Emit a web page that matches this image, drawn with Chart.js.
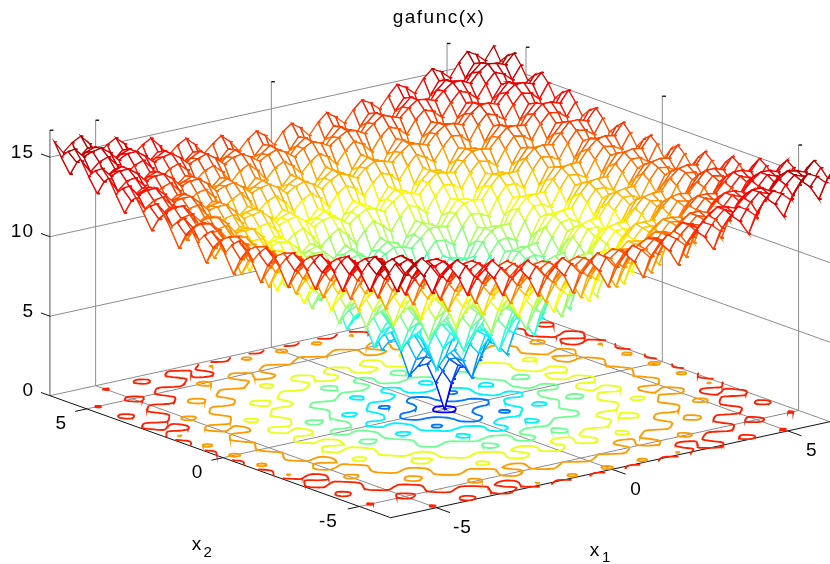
<!DOCTYPE html>
<html><head><meta charset="utf-8">
<style>html,body{margin:0;padding:0;background:#fff}canvas{display:block}</style>
<script src="https://cdn.jsdelivr.net/npm/chart.js@4/dist/chart.umd.min.js"></script>
</head><body>
<canvas id="c" width="830" height="564"></canvas>
<script>
// Surface heights read for one quadrant; the plotted surface is mirror-symmetric in x1 and x2.
const gridAbs=[0,.25,.5,.75,1,1.25,1.5,1.75,2,2.25,2.5,2.75,3,3.25,3.5,3.75,4,4.25,4.5,4.75,5,5.25,5.5,5.75,6,6.25];
const zRows=[
[0,1.8,3.1,3.1,2.6,4.3,5.6,5.5,4.9,6.5,7.7,7.5,6.9,8.4,9.5,9.3,8.6,10.1,11.1,10.9,10.1,11.6,12.5,12.2,11.4,12.8],
[1.8,2.7,3.6,3.8,3.8,5,6,6.2,6,7.2,8.1,8.2,8,9.1,9.9,10,9.7,10.8,11.5,11.5,11.2,12.2,12.9,12.9,12.5,13.5],
[3.1,3.6,4.2,4.5,4.6,5.6,6.4,6.7,6.8,7.7,8.4,8.6,8.7,9.6,10.2,10.4,10.4,11.2,11.8,11.9,11.9,12.6,13.2,13.3,13.2,13.9],
[3.1,3.8,4.5,4.5,4.3,5.5,6.3,6.5,6.3,7.4,8.3,8.4,8.2,9.2,10.1,10.1,9.8,10.9,11.6,11.6,11.3,12.3,13,12.9,12.6,13.5],
[2.6,3.8,4.6,4.3,3.6,5.1,6.2,6,5.4,7,8.1,7.9,7.2,8.7,9.8,9.5,8.8,10.3,11.3,11,10.3,11.7,12.7,12.3,11.5,12.9],
[4.3,5,5.6,5.5,5.1,6.2,6.9,7,6.7,7.8,8.6,8.7,8.4,9.5,10.3,10.3,10,11,11.8,11.7,11.4,12.4,13.1,13,12.7,13.6],
[5.6,6,6.4,6.3,6.2,6.9,7.6,7.7,7.7,8.5,9.1,9.3,9.3,10.1,10.7,10.8,10.8,11.5,12.1,12.2,12.2,12.9,13.4,13.5,13.4,14.1],
[5.5,6.2,6.7,6.5,6,7,7.7,7.6,7.3,8.4,9.1,9.1,8.8,9.9,10.6,10.6,10.3,11.3,12,11.9,11.6,12.6,13.3,13.2,12.8,13.7],
[4.9,6,6.8,6.3,5.4,6.7,7.7,7.3,6.6,8,9,8.7,8,9.4,10.4,10.1,9.4,10.8,11.8,11.4,10.7,12,13,12.6,11.8,13.2],
[6.5,7.2,7.7,7.4,7,7.8,8.5,8.4,8,9,9.7,9.6,9.3,10.3,11,11,10.6,11.6,12.3,12.2,11.9,12.8,13.5,13.4,13,13.9],
[7.7,8.1,8.4,8.3,8.1,8.6,9.1,9.1,9,9.7,10.2,10.3,10.2,10.9,11.5,11.5,11.5,12.2,12.7,12.8,12.7,13.3,13.9,13.9,13.7,14.4],
[7.5,8.2,8.6,8.4,7.9,8.7,9.3,9.1,8.7,9.6,10.3,10.2,9.8,10.8,11.4,11.4,11,11.9,12.6,12.5,12.2,13.1,13.7,13.6,13.2,14.1],
[6.9,8,8.7,8.2,7.2,8.4,9.3,8.8,8,9.3,10.2,9.8,9,10.4,11.3,10.9,10.1,11.5,12.4,12,11.2,12.6,13.5,13.1,12.3,13.6],
[8.4,9.1,9.6,9.2,8.7,9.5,10.1,9.9,9.4,10.3,10.9,10.8,10.4,11.3,11.9,11.8,11.4,12.3,13,12.9,12.5,13.4,14,13.9,13.5,14.3],
[9.5,9.9,10.2,10.1,9.8,10.3,10.7,10.6,10.4,11,11.5,11.4,11.3,11.9,12.4,12.4,12.3,12.9,13.4,13.4,13.3,13.9,14.4,14.4,14.2,14.9],
[9.3,10,10.4,10.1,9.5,10.3,10.8,10.6,10.1,11,11.5,11.4,10.9,11.8,12.4,12.3,11.9,12.8,13.4,13.2,12.8,13.7,14.3,14.1,13.7,14.6],
[8.6,9.7,10.4,9.8,8.8,10,10.8,10.3,9.4,10.6,11.5,11,10.1,11.4,12.3,11.9,11,12.3,13.2,12.8,11.9,13.2,14.1,13.7,12.8,14.1],
[10.1,10.8,11.2,10.9,10.3,11,11.5,11.3,10.8,11.6,12.2,11.9,11.5,12.3,12.9,12.8,12.3,13.2,13.8,13.6,13.2,14,14.6,14.5,14,14.9],
[11.1,11.5,11.8,11.6,11.3,11.8,12.1,12,11.8,12.3,12.7,12.6,12.4,13,13.4,13.4,13.2,13.8,14.2,14.2,14,14.6,15,15,14.8,15.4],
[10.9,11.5,11.9,11.6,11,11.7,12.2,11.9,11.4,12.2,12.8,12.5,12,12.9,13.4,13.2,12.8,13.6,14.2,14,13.5,14.4,15,14.8,14.3,15.1],
[10.1,11.2,11.9,11.3,10.3,11.4,12.2,11.6,10.7,11.9,12.7,12.2,11.2,12.5,13.3,12.8,11.9,13.2,14,13.5,12.7,13.9,14.7,14.3,13.4,14.6],
[11.6,12.2,12.6,12.3,11.7,12.4,12.9,12.6,12,12.8,13.3,13.1,12.6,13.4,13.9,13.7,13.2,14,14.6,14.4,13.9,14.7,15.3,15.1,14.6,15.4],
[12.5,12.9,13.2,13,12.7,13.1,13.4,13.3,13,13.5,13.9,13.7,13.5,14,14.4,14.3,14.1,14.6,15,15,14.7,15.3,15.7,15.6,15.4,16],
[12.2,12.9,13.3,12.9,12.3,13,13.5,13.2,12.6,13.4,13.9,13.6,13.1,13.9,14.4,14.1,13.7,14.5,15,14.8,14.3,15.1,15.6,15.4,14.9,15.7],
[11.4,12.5,13.2,12.6,11.5,12.7,13.4,12.8,11.8,13,13.7,13.2,12.3,13.5,14.2,13.7,12.8,14,14.8,14.3,13.4,14.6,15.4,14.9,14,15.2],
[12.8,13.5,13.9,13.5,12.9,13.6,14.1,13.7,13.2,13.9,14.4,14.1,13.6,14.3,14.9,14.6,14.1,14.9,15.4,15.1,14.6,15.4,16,15.7,15.2,16]
];
const x1Ticks=[-5,0,5];
const x2Ticks=[-5,0,5];
const zTicks=[0,5,10,15];
const contourLevels=[2,4,6,8,10,11.9,13.6];
const contourColours=[2,4,6,8,10,12,14];
const x1Lim=[-6.3,6.2], x2Lim=[-6.15,6.35], zLim=[0,16.7];
const colorMax=16.6;

// view of the 3-D box onto the chart's x/y scales
const view={ox:390.7,oy:517.7,x1u:35.14,x1v:-7.68,x2u:-27.26,x2v:-9.76,zv:-15.9};
function P(a,b,c){
  const da=a-x1Lim[0],db=b-x2Lim[0];
  return {x:view.ox+view.x1u*da+view.x2u*db,y:view.oy+view.x1v*da+view.x2v*db+view.zv*c};
}
function clamp(v){return Math.max(0,Math.min(1,v));}
function jet(v){
  const t=clamp(v/colorMax)*4;
  const f=k=>Math.round(255*clamp(1.5-Math.abs(t-k)));
  return `rgb(${f(3)},${f(2)},${f(1)})`;
}
const N=2*gridAbs.length-1, mid=gridAbs.length-1;
const gv=i=>(i<mid?-gridAbs[mid-i]:gridAbs[i-mid]);
const Z=(i,j)=>zRows[Math.abs(i-mid)][Math.abs(j-mid)];

const datasets=[];
// mesh: nearest cell first, Chart.js paints earlier datasets on top
const cells=[];
for(let i=0;i<N-1;i++)for(let j=0;j<N-1;j++)cells.push([i,j]);
cells.sort((p,q)=>(p[0]+p[1])-(q[0]+q[1]));
for(const [i,j] of cells){
  const c=[[i,j],[i+1,j],[i+1,j+1],[i,j+1],[i,j]];
  const v=[Z(i,j),Z(i+1,j),Z(i+1,j+1),Z(i,j+1)];
  const m=(Math.max(...v)+(v[0]+v[1]+v[2]+v[3])/4)/2;
  const col=jet(m);
  datasets.push({data:c.map(([a,b])=>P(gv(a),gv(b),Z(a,b))),borderColor:col,backgroundColor:'#fff',fill:'shape',borderWidth:1.3,
    pointStyle:'dash',pointRadius:2.5,pointBorderWidth:1.3,pointBorderColor:col,pointBackgroundColor:col,tension:0,showLine:true,clip:false});
}
// contours on the floor: marching squares over a smooth resampling of the height table
const SUB=3;
function cr(p0,p1,p2,p3,t){return 0.5*(2*p1+(p2-p0)*t+(2*p0-5*p1+4*p2-p3)*t*t+(3*p1-p0-3*p2+p3)*t*t*t);}
const zc=(i,j)=>Z(Math.max(0,Math.min(N-1,i)),Math.max(0,Math.min(N-1,j)));
const M=(N-1)*SUB+1;
const fine=[];
for(let a=0;a<M;a++){
  const ia=Math.min(N-2,Math.floor(a/SUB)),ta=a/SUB-ia,row=new Float32Array(M);
  for(let b=0;b<M;b++){
    const ib=Math.min(N-2,Math.floor(b/SUB)),tb=b/SUB-ib,col=[];
    for(let k=-1;k<=2;k++)col.push(cr(zc(ia+k,ib-1),zc(ia+k,ib),zc(ia+k,ib+1),zc(ia+k,ib+2),tb));
    row[b]=cr(col[0],col[1],col[2],col[3],ta);
  }
  fine.push(row);
}
const gf=a=>gv(0)+(gv(N-1)-gv(0))*a/(M-1);
contourLevels.forEach((lv,k)=>{
  const pts=[];
  for(let i=0;i<M-1;i++)for(let j=0;j<M-1;j++){
    const q=[[i,j],[i+1,j],[i+1,j+1],[i,j+1]];
    const hit=[];
    for(let e=0;e<4;e++){
      const [a,b]=q[e],[c,d]=q[(e+1)%4];
      const za=fine[a][b],zb=fine[c][d];
      if((za<lv)!==(zb<lv)){
        const t=(lv-za)/(zb-za);
        hit.push(P(gf(a)+(gf(c)-gf(a))*t,gf(b)+(gf(d)-gf(b))*t,0));
      }
    }
    for(let h=0;h+1<hit.length;h+=2)pts.push(hit[h],hit[h+1],{x:NaN,y:NaN});
  }
  datasets.push({data:pts,borderColor:jet(contourColours[k]),borderWidth:1.8,borderCapStyle:'round',pointRadius:0,tension:0,showLine:true,spanGaps:false,fill:false,clip:false});
});
function seg(list,color,w){
  const pts=[];
  for(const [p,q] of list)pts.push(p,q,{x:NaN,y:NaN});
  datasets.push({data:pts,borderColor:color,borderWidth:w,pointRadius:0,tension:0,showLine:true,spanGaps:false,fill:false,clip:false});
}
const [a0,a1]=x1Lim,[b0,b1]=x2Lim,zt=zLim[1];
// axes and tick marks
const axisSegs=[[P(a0,b0,0),P(a1,b0,0)],[P(a0,b0,0),P(a0,b1,0)]];
for(const t of x1Ticks)axisSegs.push([P(t,b0,0),P(t,b0-0.5,0)]);
for(const t of x2Ticks)axisSegs.push([P(a0,t,0),P(a0-0.33,t,0)]);
for(const t of zTicks)axisSegs.push([P(a0,b1,t),P(a0,b1+0.33,t)]);
seg(axisSegs,'#111',1);
// dark caps on the wall verticals
const caps=[];
const capAt=(p)=>caps.push([p,{x:p.x+3.5,y:p.y}]);
capAt(P(a0,b1,zt));
for(const t of x1Ticks)capAt(P(t,b1,zt));
for(const t of x2Ticks)capAt(P(a1,t,zt));
seg(caps,'#222',1.5);
seg([[P(a0,b1,0),P(a0,b1,zt)]],'#555',1);
// walls and floor grid
const grid=[];
for(const t of x1Ticks){grid.push([P(t,b1,0),P(t,b1,zt)]);grid.push([P(t,b0,0),P(t,b1,0)]);}
for(const t of x2Ticks){grid.push([P(a1,t,0),P(a1,t,zt)]);grid.push([P(a0,t,0),P(a1,t,0)]);}
for(const t of zTicks){grid.push([P(a0,b1,t),P(a1,b1,t)]);grid.push([P(a1,b1,t),P(a1,b0,t)]);}
seg(grid,'#8c8c8c',1);

const FONT='"Liberation Sans", Arial, sans-serif';
const spacing={
  id:'titleSpacing',
  beforeDraw(ch){ch.ctx.letterSpacing='1.5px';},
  beforeDatasetsDraw(ch){ch.ctx.letterSpacing='0px';}
};
const labels={
  id:'labels3d',
  afterDraw(ch){
    const c=ch.ctx,sx=ch.scales.x,sy=ch.scales.y;
    const put=(txt,p,dx,dy,size,align)=>{
      c.font=size+'px '+FONT;c.fillStyle='#000';c.textAlign=align||'center';c.textBaseline='middle';
      c.fillText(txt,sx.getPixelForValue(p.x)+dx,sy.getPixelForValue(p.y)+dy);
    };
    c.save();
    c.letterSpacing='1px';
    for(const t of zTicks)put(String(t),P(a0,b1,t),-16,-4.5,19,'right');
    for(const t of x1Ticks)put(String(t),P(t,b0,0),t<0?26:24,20,19);
    for(const t of x2Ticks)put(String(t),P(a0,t,0),t<0?-31:-25.5,15,19);
    const mid1=P(0,b0,0),mid2=P(a0,0,0);
    put('x',mid1,-17,81,19);put('1',mid1,-5.5,89,15);
    put('x',mid2,-26,87,19);put('2',mid2,-15,95,15);
    c.restore();
  }
};
const titleBox=6.6+22.8;
new Chart(document.getElementById('c').getContext('2d'),{
  type:'scatter',
  data:{datasets},
  options:{
    responsive:false,animation:false,events:[],
    layout:{padding:{left:48},autoPadding:false},
    scales:{
      x:{type:'linear',display:false,min:48,max:830},
      y:{type:'linear',display:false,min:titleBox,max:564,reverse:true}
    },
    plugins:{
      legend:{display:false},tooltip:{enabled:false},
      title:{display:true,text:'gafunc(x)',color:'#000',font:{family:FONT,size:19,weight:'normal',lineHeight:1.2},padding:{top:6.6,bottom:0}}
    }
  },
  plugins:[spacing,labels]
});
</script>
</body></html>
